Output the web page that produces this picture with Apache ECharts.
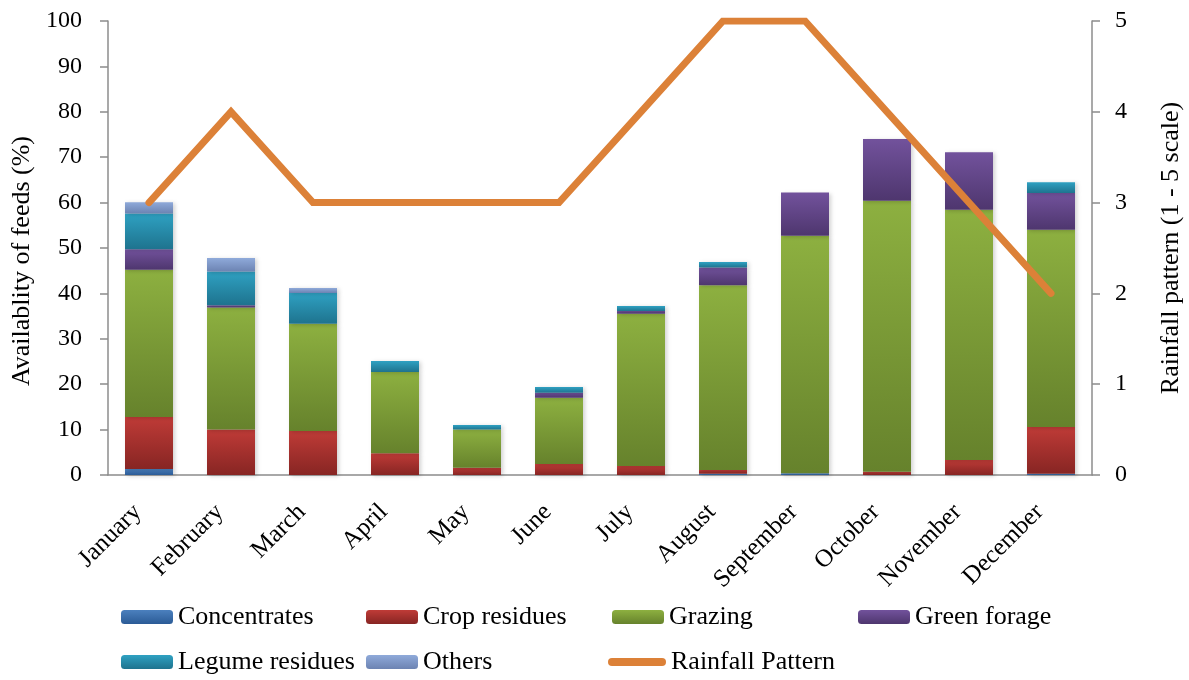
<!DOCTYPE html>
<html>
<head>
<meta charset="utf-8">
<script src="https://cdn.jsdelivr.net/npm/echarts@6/dist/echarts.min.js"></script>
<style>
html,body{margin:0;padding:0;background:#fff;}
#chart{width:1189px;height:680px;}
</style>
</head>
<body>
<div id="chart"></div>
<script>
const months = ['January','February','March','April','May','June','July','August','September','October','November','December'];
const concentrates = [1.3, 0, 0, 0, 0, 0, 0, 0.3, 0.4, 0, 0, 0.3];
const cropResidues = [11.5, 10.0, 9.7, 4.8, 1.6, 2.4, 2.0, 0.8, 0, 0.7, 3.3, 10.3];
const grazing      = [32.4, 26.9, 23.6, 17.9, 8.4, 14.6, 33.5, 40.7, 52.3, 59.7, 55.1, 43.4];
const greenForage  = [4.5, 0.5, 0, 0, 0, 1.1, 0.6, 3.9, 9.5, 13.6, 12.7, 8.1];
const legumeResidues = [7.9, 7.4, 6.8, 2.4, 1.0, 1.3, 1.1, 1.2, 0, 0, 0, 2.4];
const others       = [2.5, 3.0, 1.1, 0, 0, 0, 0, 0, 0, 0, 0, 0];
const rainfall     = [3, 4, 3, 3, 3, 3, 4, 5, 5, 4, 3, 2];

const FONT = 'Liberation Serif';
const chart = echarts.init(document.getElementById('chart'));

function grad(top, bottom) {
  return new echarts.graphic.LinearGradient(0, 0, 0, 1, [
    {offset: 0, color: top}, {offset: 1, color: bottom}
  ]);
}

const barDefs = [
  {name: 'Concentrates', data: concentrates, c: ['#4B80BE', '#2B5B96']},
  {name: 'Crop residues', data: cropResidues, c: ['#BF3B37', '#872523']},
  {name: 'Grazing', data: grazing, c: ['#8DB040', '#66822C']},
  {name: 'Green forage', data: greenForage, c: ['#72529C', '#4E366E']},
  {name: 'Legume residues', data: legumeResidues, c: ['#2FA1C2', '#1E738E']},
  {name: 'Others', data: others, c: ['#8FAADA', '#6C83B2']}
];

const series = barDefs.map(d => ({
  name: d.name,
  type: 'bar',
  stack: 'feeds',
  barWidth: 48,
  data: d.data,
  itemStyle: {
    color: grad(d.c[0], d.c[1]),
    shadowColor: 'rgba(0,0,0,0.18)',
    shadowBlur: 4,
    shadowOffsetX: 2,
    shadowOffsetY: 1
  },
  emphasis: {disabled: true}
}));

series.push({
  name: 'Rainfall Pattern',
  type: 'line',
  yAxisIndex: 1,
  data: rainfall,
  showSymbol: false,
  symbol: 'none',
  z: 10,
  lineStyle: {color: '#DC8138', width: 7, cap: 'round', join: 'miter'},
  itemStyle: {color: '#DC8138'}
});

const textStyle = {fontFamily: FONT, fontSize: 26, color: '#000'};

function leg(name, left, top, extra) {
  return Object.assign({
    data: [name], left: left, top: top, padding: 0,
    itemWidth: 52, itemHeight: 14, itemGap: 0,
    textStyle: Object.assign({}, textStyle, {padding: [0, 0, 0, 0]}),
    selectedMode: false
  }, extra || {});
}

const row1 = 604, row2 = 649;
const option = {
  animation: false,
  backgroundColor: '#fff',
  grid: {left: 108, right: 97, top: 21, bottom: 205, containLabel: false, outerBoundsMode: 'none'},
  legend: [
    leg('Concentrates', 121, row1),
    leg('Crop residues', 366, row1),
    leg('Grazing', 612, row1),
    leg('Green forage', 858, row1),
    leg('Legume residues', 121, row2),
    leg('Others', 366, row2),
    leg('Rainfall Pattern', 608, row2, {
      itemWidth: 58, itemHeight: 8,
      icon: 'path://M4,0 L54,0 A4,4 0 0 1 54,8 L4,8 A4,4 0 0 1 4,0 Z',
      itemStyle: {color: '#DC8138'}
    })
  ],
  xAxis: {
    type: 'category',
    data: months,
    axisLine: {lineStyle: {color: '#8C8C8C', width: 1.5}},
    axisTick: {show: false},
    axisLabel: {
      interval: 0, rotate: 45, margin: 22,
      padding: [0, 16, 0, 0],
      fontFamily: FONT, fontSize: 25, color: '#000'
    }
  },
  yAxis: [
    {
      type: 'value', min: 0, max: 100, interval: 10,
      name: 'Availablity of feeds (%)',
      nameLocation: 'middle', nameGap: 71, nameRotate: 90,
      nameTextStyle: {fontFamily: FONT, fontSize: 26, color: '#000', padding: [0, 26, 0, 0]},
      axisLine: {show: true, lineStyle: {color: '#8C8C8C', width: 1.5}},
      axisTick: {show: true, inside: false, length: 8, lineStyle: {color: '#8C8C8C', width: 1.5}},
      axisLabel: {margin: 26, fontFamily: FONT, fontSize: 24, color: '#000'},
      splitLine: {show: false}
    },
    {
      type: 'value', min: 0, max: 5, interval: 1, position: 'right',
      name: 'Rainfall pattern (1 - 5 scale)',
      nameLocation: 'middle', nameGap: 66, nameRotate: 90,
      nameTextStyle: {fontFamily: FONT, fontSize: 26, color: '#000'},
      axisLine: {show: true, lineStyle: {color: '#8C8C8C', width: 1.5}},
      axisTick: {show: true, inside: false, length: 8, lineStyle: {color: '#8C8C8C', width: 1.5}},
      axisLabel: {margin: 23, fontFamily: FONT, fontSize: 24, color: '#000'},
      splitLine: {show: false}
    }
  ],
  series: series
};
chart.setOption(option);
</script>
</body>
</html>
